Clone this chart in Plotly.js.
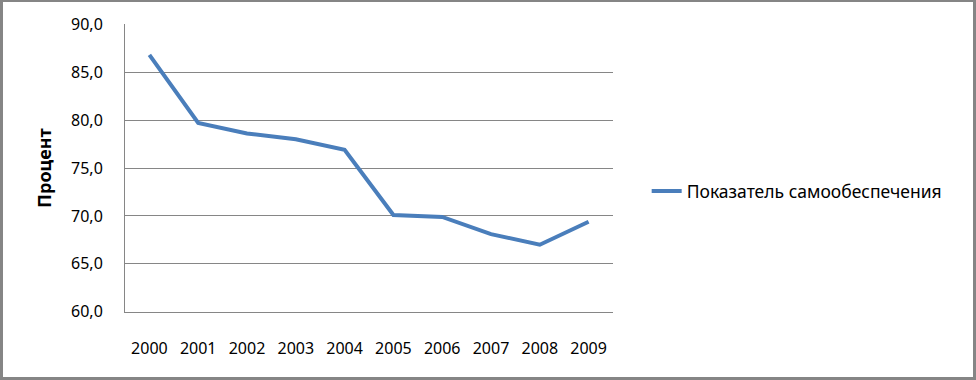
<!DOCTYPE html>
<html>
<head>
<meta charset="utf-8">
<script src="https://cdn.plot.ly/plotly-3.0.1.min.js"></script>
<style>
html,body{margin:0;padding:0;background:#fff;}
#wrap{width:976px;height:380px;box-sizing:border-box;border-style:solid;border-color:#858585;border-width:2px 3px 3px 3px;background:#fff;position:relative;overflow:hidden;}
#chart{position:absolute;left:-3px;top:-2px;width:976px;height:380px;}
</style>
</head>
<body>
<div id="wrap"><div id="chart"></div></div>
<script>
const years = ["2000","2001","2002","2003","2004","2005","2006","2007","2008","2009"];
const selfSufficiency = [86.8, 79.7, 78.6, 78.0, 76.9, 70.1, 69.9, 68.1, 67.0, 69.4];
const seriesName = "Показатель самообеспечения";
const yTickVals = [60, 65, 70, 75, 80, 85, 90];
const yTickText = ["60,0", "65,0", "70,0", "75,0", "80,0", "85,0", "90,0"];
const yTitle = "Процент";

const font = "Noto Sans, Open Sans, sans-serif";

Plotly.newPlot("chart", [{
  x: years,
  y: selfSufficiency,
  name: seriesName,
  type: "scatter",
  mode: "lines",
  line: {color: "#4A7EBB", width: 4},
  showlegend: true
}], {
  width: 976,
  height: 380,
  margin: {l: 125, r: 363, t: 24, b: 68},
  paper_bgcolor: "rgba(0,0,0,0)",
  plot_bgcolor: "#fff",
  showlegend: true,
  font: {family: font, size: 16, color: "#000"},
  xaxis: {
    type: "category",
    range: [-0.5, 9.5],
    showgrid: false,
    showline: true,
    linecolor: "#868686",
    linewidth: 1,
    ticks: "",
    ticklabelstandoff: 22,
    tickfont: {family: font, size: 16, color: "#000"},
    zeroline: false
  },
  yaxis: {
    range: [59.98, 90.02],
    tickvals: yTickVals,
    ticktext: yTickText,
    showgrid: true,
    gridcolor: "#868686",
    gridwidth: 1,
    showline: true,
    linecolor: "#868686",
    linewidth: 1,
    ticks: "",
    ticklabelstandoff: 18,
    tickfont: {family: font, size: 16, color: "#000"},
    zeroline: false,
    title: {text: yTitle, font: {family: font, size: 18, color: "#000", weight: "bold"}, standoff: 14}
  },
  legend: {
    x: 1.069, y: 0.42, xanchor: "left", yanchor: "middle",
    font: {family: font, size: 17.5, color: "#000"},
    bgcolor: "rgba(0,0,0,0)"
  }
}, {displayModeBar: false, staticPlot: true});
</script>
</body>
</html>
